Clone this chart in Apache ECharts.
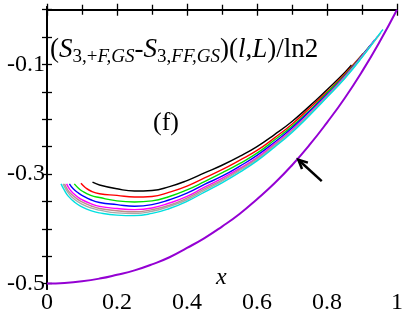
<!DOCTYPE html>
<html><head><meta charset="utf-8">
<script src="https://cdn.jsdelivr.net/npm/echarts@6/dist/echarts.min.js"></script>
<style>html,body{margin:0;padding:0;background:#fff}#c{width:407px;height:315px}</style>
</head><body><div id="c"></div>
<script>
// ---- data ----
const yLabelVals = [-0.5, -0.3, -0.1];
const yTickVals = [-0.5, -0.45, -0.4, -0.35, -0.3, -0.25, -0.2, -0.15, -0.1, -0.05, 0];

const purpleX = [0,0.05,0.1,0.15,0.2,0.25,0.3,0.35,0.4,0.45,0.5,0.55,0.6,0.65,0.7,0.75,0.8,0.85,0.9,0.95,1];
const purpleY = [-0.5,-0.499,-0.496,-0.491,-0.484,-0.476,-0.465,-0.452,-0.435,-0.417,-0.396,-0.373,-0.346,-0.317,-0.284,-0.247,-0.206,-0.162,-0.113,-0.059,0];

const blackX = [0.13,0.15,0.2,0.25,0.3,0.35,0.4,0.45,0.5,0.55,0.6,0.65,0.7,0.75,0.8,0.85,0.87];
const blackY = [-0.315,-0.320,-0.327,-0.331,-0.330,-0.323,-0.312,-0.298,-0.284,-0.268,-0.250,-0.228,-0.204,-0.176,-0.146,-0.115,-0.101];

const redX = [0.097,0.11,0.125,0.15,0.2,0.25,0.3,0.35,0.4,0.45,0.5,0.55,0.6,0.65,0.7,0.75,0.8,0.85,0.9,0.903];
const redY = [-0.317,-0.325,-0.331,-0.336,-0.339,-0.342,-0.341,-0.333,-0.322,-0.307,-0.292,-0.275,-0.257,-0.234,-0.209,-0.180,-0.150,-0.118,-0.082,-0.080];

const greenX = [0.078,0.09,0.1,0.125,0.15,0.2,0.25,0.3,0.35,0.4,0.45,0.5,0.55,0.6,0.65,0.7,0.75,0.8,0.85,0.9,0.922];
const greenY = [-0.318,-0.326,-0.331,-0.339,-0.343,-0.349,-0.351,-0.349,-0.341,-0.329,-0.314,-0.298,-0.281,-0.262,-0.238,-0.213,-0.184,-0.152,-0.120,-0.083,-0.066];

const blueX = [0.064,0.075,0.09,0.1,0.125,0.15,0.2,0.25,0.3,0.35,0.4,0.45,0.5,0.55,0.6,0.65,0.7,0.75,0.8,0.85,0.9,0.936];
const blueY = [-0.318,-0.327,-0.335,-0.339,-0.347,-0.352,-0.356,-0.359,-0.356,-0.347,-0.335,-0.319,-0.304,-0.286,-0.266,-0.242,-0.216,-0.186,-0.155,-0.122,-0.084,-0.055];

const magentaX = [0.056,0.065,0.075,0.09,0.1,0.125,0.15,0.2,0.25,0.3,0.35,0.4,0.45,0.5,0.55,0.6,0.65,0.7,0.75,0.8,0.85,0.9,0.944];
const magentaY = [-0.318,-0.328,-0.335,-0.343,-0.347,-0.354,-0.359,-0.363,-0.365,-0.362,-0.353,-0.341,-0.324,-0.308,-0.290,-0.270,-0.245,-0.219,-0.189,-0.157,-0.123,-0.085,-0.049];

const brownX = [0.05,0.06,0.07,0.085,0.1,0.125,0.15,0.2,0.25,0.3,0.35,0.4,0.45,0.5,0.55,0.6,0.65,0.7,0.75,0.8,0.85,0.9,0.95];
const brownY = [-0.318,-0.330,-0.337,-0.345,-0.351,-0.358,-0.363,-0.367,-0.369,-0.365,-0.357,-0.344,-0.327,-0.311,-0.292,-0.272,-0.247,-0.221,-0.190,-0.158,-0.124,-0.086,-0.045];

const grayX = [0.046,0.055,0.065,0.08,0.1,0.125,0.15,0.2,0.25,0.3,0.35,0.4,0.45,0.5,0.55,0.6,0.65,0.7,0.75,0.8,0.85,0.9,0.954];
const grayY = [-0.318,-0.329,-0.338,-0.347,-0.355,-0.362,-0.366,-0.371,-0.372,-0.368,-0.359,-0.347,-0.330,-0.313,-0.294,-0.274,-0.249,-0.222,-0.191,-0.159,-0.125,-0.086,-0.042];

const cyanX = [0.04,0.05,0.06,0.08,0.1,0.125,0.15,0.2,0.25,0.3,0.35,0.4,0.45,0.5,0.55,0.6,0.65,0.7,0.75,0.8,0.85,0.9,0.95,0.96];
const cyanY = [-0.318,-0.330,-0.340,-0.352,-0.360,-0.367,-0.371,-0.375,-0.376,-0.372,-0.363,-0.350,-0.333,-0.316,-0.297,-0.276,-0.251,-0.224,-0.193,-0.160,-0.126,-0.087,-0.044,-0.036];

const arrowHead = [0.718, -0.274];
const arrowTail = [0.785, -0.313];

// ---- chart ----
const zip = (xs, ys) => xs.map((x, i) => [x, ys[i]]);
const SERIF = 'Liberation Serif';
const chart = echarts.init(document.getElementById('c'), null, {renderer: 'canvas'});

const bundle = [
  [blackX, blackY, '#000000'],
  [redX, redY, '#ff0000'],
  [greenX, greenY, '#00e000'],
  [blueX, blueY, '#0000ff'],
  [magentaX, magentaY, '#ff00ff'],
  [brownX, brownY, '#c08a8a'],
  [grayX, grayY, '#a8a8a8'],
  [cyanX, cyanY, '#00e0e0']
];

const series = bundle.map(([xs, ys, c]) => ({
  type: 'line', data: zip(xs, ys), smooth: true, showSymbol: false,
  lineStyle: {color: c, width: 1.4}, itemStyle: {color: c}, z: 3
}));
series.push({
  type: 'line', data: zip(purpleX, purpleY), smooth: true, showSymbol: false,
  lineStyle: {color: '#9400d3', width: 2}, z: 4
});

const axLine = {show: true, lineStyle: {color: '#000', width: 2}};
const fmtX = v => (v === 0 || v === 1) ? String(v) : v.toFixed(1);

chart.setOption({
  animation: false,
  grid: {left: 47, right: 10, top: 7, bottom: 23},
  xAxis: [
    {type: 'value', min: 0, max: 1, interval: 0.2, position: 'bottom',
     axisLine: axLine,
     axisTick: {inside: true, length: 6, lineStyle: {color: '#000', width: 1.3}},
     minorTick: {show: true, splitNumber: 2, length: 5, lineStyle: {color: '#000', width: 1.3}},
     axisLabel: {fontFamily: SERIF, fontSize: 24, color: '#000', margin: 2, formatter: fmtX},
     splitLine: {show: false}, minorSplitLine: {show: false}},
    {type: 'value', min: 0, max: 1, interval: 0.2, position: 'top',
     axisLine: axLine,
     axisTick: {inside: true, length: 6, lineStyle: {color: '#000', width: 1.3}},
     minorTick: {show: true, splitNumber: 2, length: 5, lineStyle: {color: '#000', width: 1.3}},
     axisLabel: {show: false}, splitLine: {show: false}}
  ],
  yAxis: [
    {type: 'value', min: -0.51, max: 0.005, position: 'left',
     axisLine: axLine,
     axisTick: {inside: true, length: 5, customValues: yTickVals, lineStyle: {color: '#000', width: 1.3}},
     axisLabel: {customValues: yLabelVals, fontFamily: SERIF, fontSize: 24, color: '#000', margin: 2,
                 formatter: v => v.toFixed(1)},
     splitLine: {show: false}},
    {type: 'value', min: -0.51, max: 0.005, position: 'right',
     axisLine: axLine,
     axisTick: {inside: true, length: 5, customValues: yTickVals, lineStyle: {color: '#000', width: 1.3}},
     axisLabel: {show: false}, splitLine: {show: false}}
  ],
  series: series
});

// annotations (arrow positioned through the axes)
const h = chart.convertToPixel({xAxisIndex: 0, yAxisIndex: 0}, arrowHead);
const t = chart.convertToPixel({xAxisIndex: 0, yAxisIndex: 0}, arrowTail);
const ang = Math.atan2(t[1] - h[1], t[0] - h[0]);
const AL = 10, spread = 0.45;
const p1 = [h[0] + AL * Math.cos(ang + spread), h[1] + AL * Math.sin(ang + spread)];
const p2 = [h[0] + AL * Math.cos(ang - spread), h[1] + AL * Math.sin(ang - spread)];

chart.setOption({graphic: [
  {id: 'title', type: 'text', left: 50, top: 36, z: 10,
   style: {
     text: '{m|(}{i|S}{su|3,+}{s|F,GS}{m|-}{i|S}{su|3,}{s|FF,GS}{m|)(}{i|l}{m|,}{i|L}{m|)/ln2}',
     rich: {
       m: {fontFamily: SERIF, fontSize: 27, fill: '#000', lineHeight: 34, verticalAlign: 'middle'},
       i: {fontFamily: SERIF, fontSize: 27, fontStyle: 'italic', fill: '#000', lineHeight: 34, verticalAlign: 'middle'},
       s: {fontFamily: SERIF, fontSize: 19, fontStyle: 'italic', fill: '#000', lineHeight: 16, verticalAlign: 'bottom'},
       su: {fontFamily: SERIF, fontSize: 19, fill: '#000', lineHeight: 16, verticalAlign: 'bottom'}
     }
   }},
  {id: 'panel', type: 'text', left: 153, top: 110, z: 10,
   style: {text: '(f)', fontFamily: SERIF, fontSize: 26, fill: '#000'}},
  {id: 'xname', type: 'text', left: 216, top: 266, z: 10,
   style: {text: 'x', fontFamily: SERIF, fontSize: 24, fontStyle: 'italic', fill: '#000'}},
  {id: 'arrowShaft', type: 'line', shape: {x1: t[0], y1: t[1], x2: h[0], y2: h[1]},
   style: {stroke: '#000', lineWidth: 2.5}, z: 10},
  {id: 'arrowHead', type: 'polyline', shape: {points: [p1, h, p2]},
   style: {stroke: '#000', lineWidth: 2.5, fill: null}, z: 10}
]});
</script></body></html>
